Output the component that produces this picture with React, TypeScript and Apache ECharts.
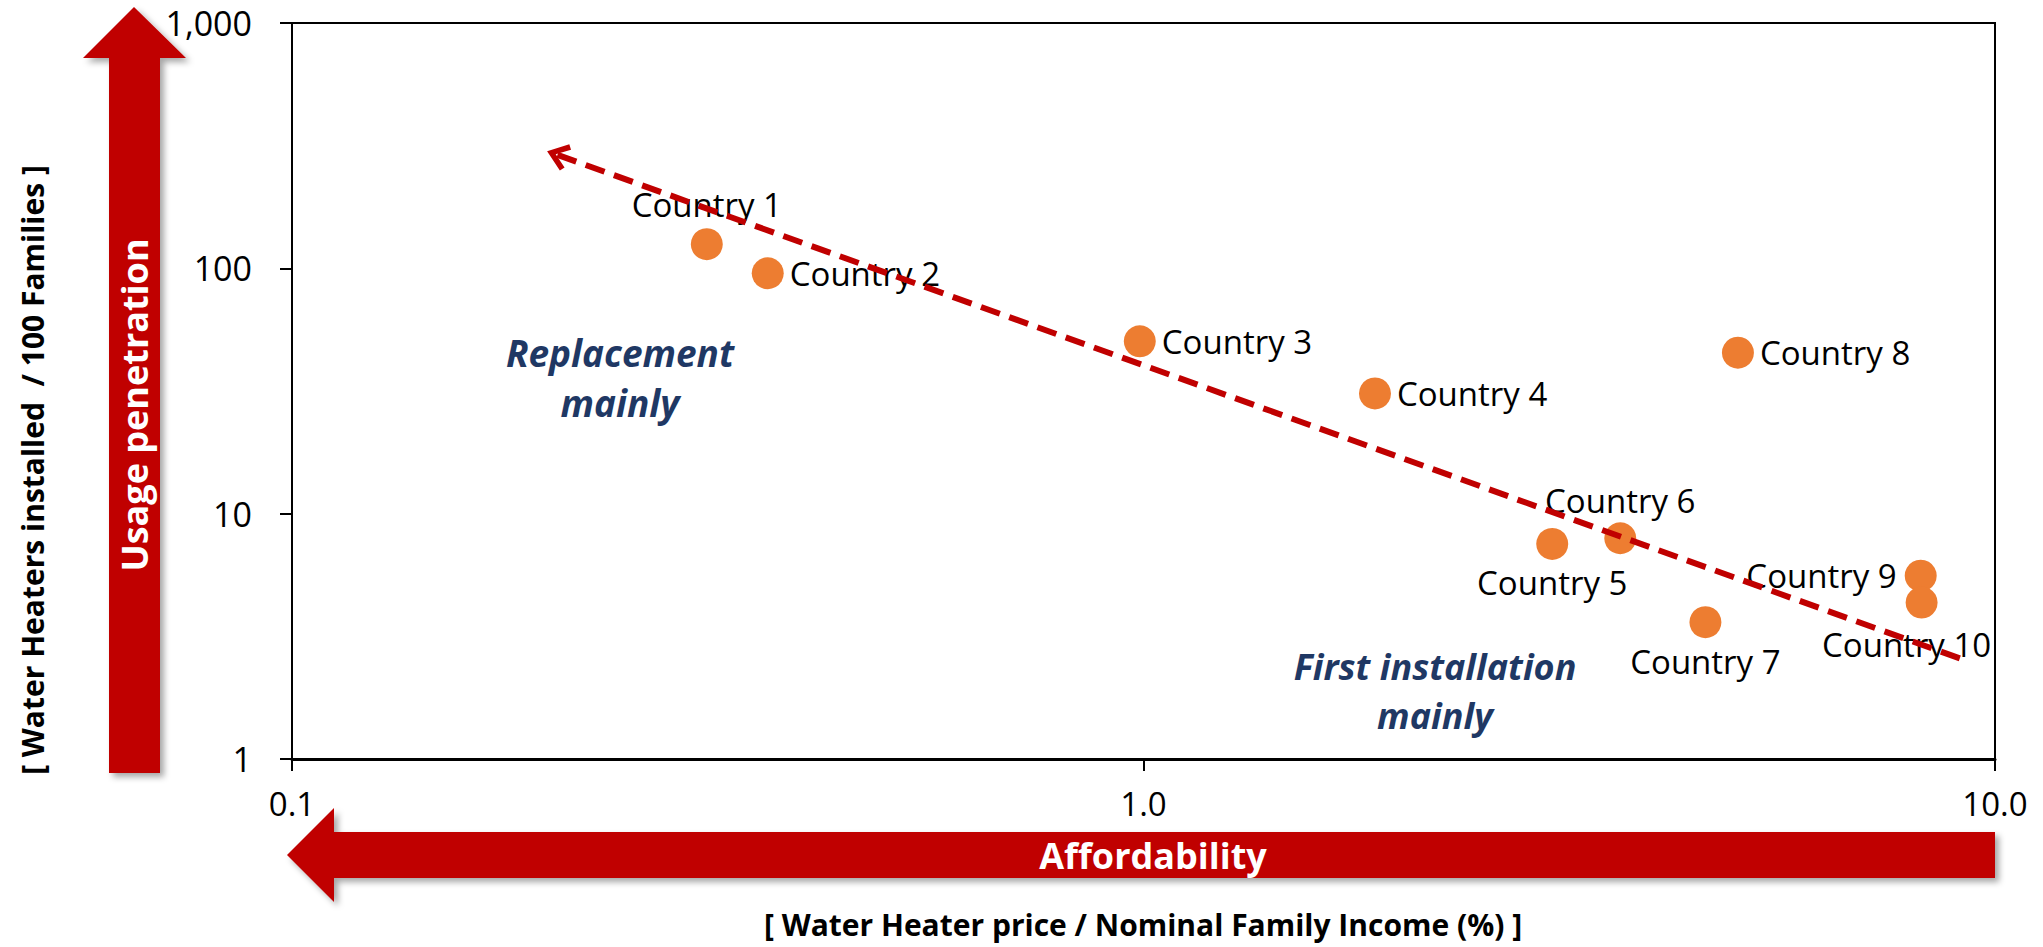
import React, { useEffect, useRef } from "react";
import * as echarts from "echarts";

const countries = [
  "Country 1", "Country 2", "Country 3", "Country 4", "Country 5",
  "Country 6", "Country 7", "Country 8", "Country 9", "Country 10",
];
// Water Heater price / Nominal Family Income (%)
const affordability = [0.307, 0.362, 0.99, 1.87, 3.02, 3.63, 4.57, 4.99, 8.18, 8.2];
// Water Heaters installed / 100 Families
const penetration = [125.4, 95.5, 50.4, 30.9, 7.53, 7.94, 3.61, 45.3, 5.59, 4.34];
// trend line end points [x, y]
const trendStart = [0.205, 290];
const trendEnd = [9.3, 2.5];

const xTicks = [0.1, 1, 10];
const yTicks = [1, 10, 100, 1000];

const FONT = "'Open Sans', 'Noto Sans', sans-serif";
const RED = "#C00000";
const ORANGE = "#ED7D31";
const NAVY = "#1F3864";

const labelPlacement: Record<string, any> = {
  "Country 1": { position: "top", distance: 7 },
  "Country 2": { position: "right", distance: 6 },
  "Country 3": { position: "right", distance: 6 },
  "Country 4": { position: "right", distance: 6 },
  "Country 5": { position: "bottom", distance: 6 },
  "Country 6": { position: "top", distance: 5 },
  "Country 7": { position: "bottom", distance: 7 },
  "Country 8": { position: "right", distance: 6 },
  "Country 9": { position: "left", distance: 8 },
  "Country 10": { position: "bottom", distance: 9, offset: [-15, 0] },
};

export default function App() {
  const ref = useRef<HTMLDivElement>(null);

  useEffect(() => {
    if (!ref.current) return;
    const chart = echarts.init(ref.current, null, { renderer: "svg" });

    const data = countries.map((name, i) => ({
      name,
      value: [affordability[i], penetration[i]],
      label: { show: true, ...labelPlacement[name] },
    }));

    const shadow = {
      shadowBlur: 6,
      shadowOffsetX: 4,
      shadowOffsetY: 4,
      shadowColor: "rgba(0,0,0,0.35)",
    };

    const option: any = {
      animation: false,
      backgroundColor: "#ffffff",
      textStyle: { fontFamily: FONT },
      grid: {
        left: 292,
        right: 48,
        top: 23,
        bottom: 188,
        show: true,
        borderColor: "#000",
        borderWidth: 2,
      },
      xAxis: {
        type: "log",
        logBase: 10,
        min: xTicks[0],
        max: xTicks[xTicks.length - 1],
        axisLine: { show: true, lineStyle: { color: "#000", width: 3 } },
        axisTick: { show: true, length: 12, lineStyle: { color: "#000", width: 2 } },
        splitLine: { show: false },
        minorTick: { show: false },
        axisLabel: {
          fontFamily: FONT,
          fontSize: 33,
          color: "#000",
          margin: 28,
          formatter: (v: number) => v.toFixed(1),
        },
      },
      yAxis: {
        type: "log",
        logBase: 10,
        min: yTicks[0],
        max: yTicks[yTicks.length - 1],
        axisLine: { show: true, lineStyle: { color: "#000", width: 2 } },
        axisTick: { show: true, length: 12, lineStyle: { color: "#000", width: 2 } },
        splitLine: { show: false },
        axisLabel: {
          fontFamily: FONT,
          fontSize: 34,
          color: "#000",
          margin: 40,
          formatter: (v: number) => Math.round(v).toLocaleString("en-US"),
        },
      },
      series: [
        {
          type: "scatter",
          symbol: "circle",
          symbolSize: 32,
          itemStyle: { color: ORANGE, opacity: 1 },
          label: {
            show: true,
            formatter: "{b}",
            fontFamily: FONT,
            fontSize: 33,
            color: "#000",
          },
          data,
          markLine: {
            silent: true,
            symbol: [
              "path://M5 0 L10 6.5 L8.4 7.7 L5 3.2 L1.6 7.7 L0 6.5 Z",
              "none",
            ],
            symbolSize: [28, 22],
            label: { show: false },
            lineStyle: { color: RED, width: 6, type: [20, 10] },
            emphasis: { disabled: true },
            data: [
              [
                { coord: trendStart },
                { coord: trendEnd },
              ],
            ],
          },
          z: 3,
        },
      ],
      graphic: [
        // vertical arrow (usage penetration)
        {
          type: "polygon",
          shape: {
            points: [
              [134, 7], [186, 58], [160, 58], [160, 773],
              [109, 773], [109, 58], [83, 58],
            ],
          },
          style: { fill: RED, ...shadow },
          z: 1,
        },
        {
          type: "text",
          x: 134,
          y: 405,
          rotation: Math.PI / 2,
          style: {
            text: "Usage penetration",
            fill: "#fff",
            fontFamily: FONT,
            fontWeight: "bold",
            fontSize: 36,
            align: "center",
            verticalAlign: "middle",
          },
          z: 2,
        },
        {
          type: "text",
          x: 32,
          y: 470,
          rotation: Math.PI / 2,
          style: {
            text: "[ Water Heaters installed  / 100 Families ]",
            fill: "#000",
            fontFamily: FONT,
            fontWeight: "bold",
            fontSize: 30,
            align: "center",
            verticalAlign: "middle",
          },
        },
        // horizontal arrow (affordability)
        {
          type: "polygon",
          shape: {
            points: [
              [287, 855], [334, 808], [334, 832], [1995, 832],
              [1995, 878], [334, 878], [334, 902],
            ],
          },
          style: { fill: RED, ...shadow },
          z: 1,
        },
        {
          type: "text",
          x: 1153,
          y: 855,
          style: {
            text: "Affordability",
            fill: "#fff",
            fontFamily: FONT,
            fontWeight: "bold",
            fontSize: 36,
            align: "center",
            verticalAlign: "middle",
          },
          z: 2,
        },
        {
          type: "text",
          x: 1143,
          y: 924,
          style: {
            text: "[ Water Heater price / Nominal Family Income (%) ]",
            fill: "#000",
            fontFamily: FONT,
            fontWeight: "bold",
            fontSize: 30,
            align: "center",
            verticalAlign: "middle",
          },
        },
        {
          type: "text",
          x: 620,
          y: 377,
          style: {
            text: "Replacement\nmainly",
            fill: NAVY,
            fontFamily: FONT,
            fontWeight: "bold",
            fontStyle: "italic",
            fontSize: 37,
            lineHeight: 50,
            align: "center",
            verticalAlign: "middle",
          },
        },
        {
          type: "text",
          x: 1435,
          y: 691,
          style: {
            text: "First installation\nmainly",
            fill: NAVY,
            fontFamily: FONT,
            fontWeight: "bold",
            fontStyle: "italic",
            fontSize: 36,
            lineHeight: 49,
            align: "center",
            verticalAlign: "middle",
          },
        },
      ],
    };

    chart.setOption(option);
    return () => chart.dispose();
  }, []);

  return (
    <div
      ref={ref}
      style={{ position: "fixed", left: 0, top: 0, width: "2043px", height: "947px" }}
    />
  );
}
